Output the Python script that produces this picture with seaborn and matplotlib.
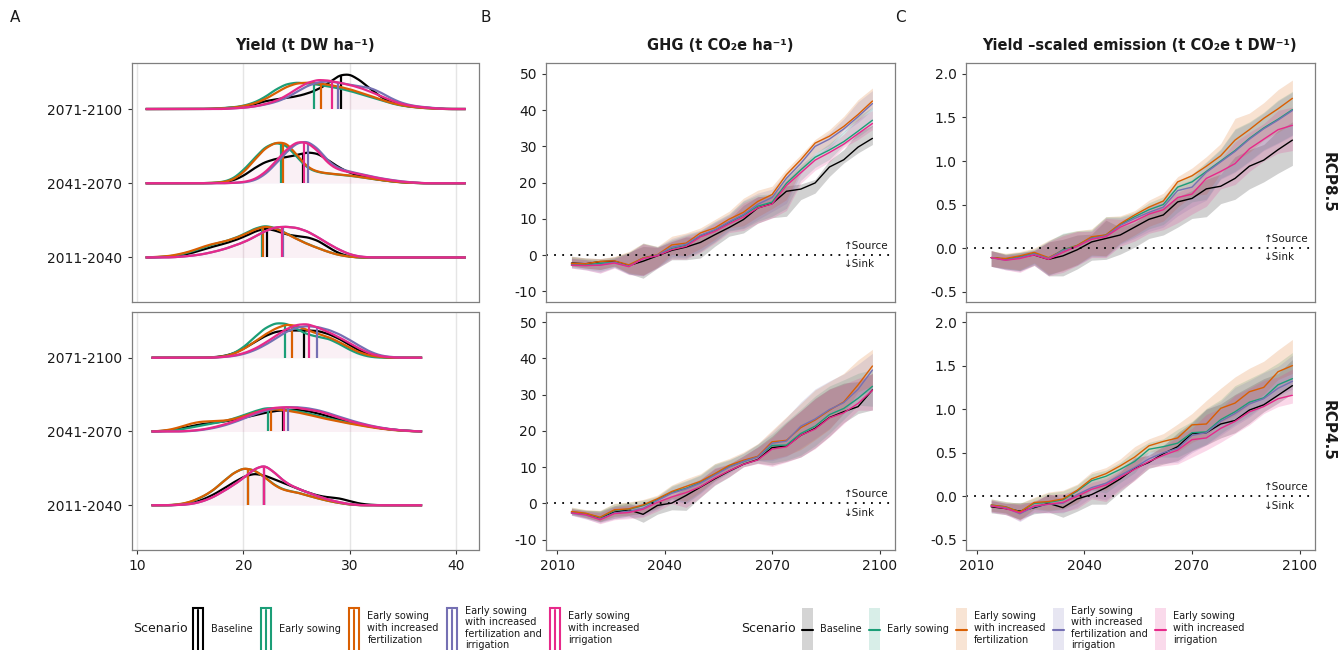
import numpy as np
import pandas as pd
import matplotlib
matplotlib.use("Agg")
import matplotlib.pyplot as plt
from matplotlib.lines import Line2D
from matplotlib.patches import Rectangle
from matplotlib.legend_handler import HandlerBase
import seaborn as sns
from seaborn._statistics import KDE

# ---------------- data ----------------
scenario_keys = ["base", "es", "esf", "esfi", "esi"]
scenario_labels = ["Baseline", "Early sowing",
                   "Early sowing\nwith increased\nfertilization",
                   "Early sowing\nwith increased\nfertilization and\nirrigation",
                   "Early sowing\nwith increased\nirrigation"]
scenario_colors = ["#000000", "#1B9E77", "#D95F02", "#7570B3", "#E7298A"]
periods = ["2011-2040", "2041-2070", "2071-2100"]

# binned yield distribution: relative site counts per 1 t DW/ha bin
yield_bins = [12, 13, 14, 15, 16, 17, 18, 19, 20, 21, 22, 23, 24, 25, 26,
              27, 28, 29, 30, 31, 32, 33, 34, 35, 36, 37, 38]
counts85_2071 = dict(
    base=[0, 0, 0, 0, 0, 0, 2, 4, 7, 13, 23, 28, 32, 37, 45, 57, 75, 100, 103, 83, 57, 33, 18, 10, 6, 4, 2],
    es=[0, 0, 0, 0, 0, 1, 3, 5, 10, 20, 37, 62, 80, 85, 82, 78, 72, 66, 58, 48, 38, 27, 17, 10, 6, 3, 1],
    esf=[0, 0, 0, 0, 0, 1, 2, 4, 9, 17, 30, 50, 70, 82, 84, 82, 77, 71, 63, 52, 41, 29, 18, 11, 6, 3, 1],
    esfi=[0, 0, 0, 0, 0, 0, 0, 2, 4, 8, 14, 22, 35, 55, 75, 87, 90, 85, 78, 73, 68, 52, 32, 18, 10, 6, 3],
    esi=[0, 0, 0, 0, 0, 0, 0, 2, 4, 8, 15, 25, 42, 65, 85, 95, 92, 85, 78, 68, 55, 40, 26, 15, 9, 5, 2])
counts85_2041 = dict(
    base=[0, 0, 0, 0, 0, 0, 2, 8, 23, 48, 68, 78, 83, 90, 100, 96, 73, 50, 33, 23, 16, 10, 6, 3, 1, 0, 0],
    es=[0, 0, 0, 0, 0, 1, 3, 12, 38, 72, 106, 120, 113, 78, 43, 32, 28, 25, 22, 18, 13, 9, 5, 2, 1, 0, 0],
    esf=[0, 0, 0, 0, 0, 1, 2, 9, 30, 65, 100, 117, 118, 82, 45, 32, 28, 25, 22, 18, 13, 9, 5, 2, 1, 0, 0],
    esfi=[0, 0, 0, 0, 0, 0, 0, 1, 2, 7, 24, 55, 90, 118, 124, 102, 62, 42, 34, 27, 20, 14, 9, 5, 2, 0, 0],
    esi=[0, 0, 0, 0, 0, 0, 0, 1, 3, 10, 30, 62, 98, 122, 120, 95, 55, 38, 32, 26, 19, 13, 8, 4, 2, 0, 0])
counts85_2011 = dict(
    base=[1, 2, 6, 12, 22, 32, 40, 50, 62, 78, 90, 82, 70, 65, 62, 52, 30, 12, 2, 0, 0, 0, 0, 0, 0, 0, 0],
    es=[1, 3, 8, 16, 27, 38, 45, 55, 68, 85, 95, 88, 72, 55, 40, 28, 16, 7, 2, 0, 0, 0, 0, 0, 0, 0, 0],
    esf=[2, 4, 10, 18, 30, 40, 46, 55, 67, 83, 94, 88, 72, 55, 40, 28, 16, 7, 2, 0, 0, 0, 0, 0, 0, 0, 0],
    esfi=[0, 0, 2, 5, 9, 16, 24, 35, 47, 63, 82, 95, 96, 93, 82, 63, 42, 24, 9, 2, 0, 0, 0, 0, 0, 0, 0],
    esi=[0, 0, 2, 5, 9, 16, 24, 35, 47, 63, 82, 95, 96, 93, 82, 63, 42, 24, 9, 2, 0, 0, 0, 0, 0, 0, 0])
counts45_2071 = dict(
    base=[0, 0, 0, 0, 0, 1, 4, 12, 28, 48, 68, 82, 86, 86, 86, 85, 75, 60, 40, 20, 8, 2, 0, 0, 0, 0, 0],
    es=[0, 0, 0, 0, 0, 0, 3, 12, 33, 65, 96, 113, 112, 93, 75, 68, 62, 45, 25, 10, 2, 0, 0, 0, 0, 0, 0],
    esf=[0, 0, 0, 0, 0, 1, 3, 11, 28, 52, 78, 98, 113, 108, 93, 80, 70, 53, 33, 16, 6, 2, 0, 0, 0, 0, 0],
    esfi=[0, 0, 0, 0, 0, 0, 2, 5, 12, 24, 42, 64, 88, 103, 108, 104, 95, 80, 60, 38, 18, 6, 2, 0, 0, 0, 0],
    esi=[0, 0, 0, 0, 0, 0, 2, 6, 14, 28, 48, 72, 95, 110, 113, 100, 85, 68, 48, 28, 12, 4, 1, 0, 0, 0, 0])
counts45_2041 = dict(
    base=[1, 3, 9, 17, 24, 28, 32, 38, 45, 53, 62, 68, 71, 72, 68, 60, 50, 40, 31, 23, 16, 10, 6, 3, 1, 0, 0],
    es=[0, 2, 6, 12, 19, 25, 31, 40, 52, 64, 75, 75, 70, 65, 59, 50, 42, 34, 27, 21, 15, 10, 6, 3, 1, 0, 0],
    esf=[1, 5, 14, 26, 33, 34, 35, 40, 50, 62, 72, 74, 70, 64, 57, 48, 40, 33, 26, 20, 14, 9, 5, 2, 1, 0, 0],
    esfi=[0, 0, 0, 1, 4, 9, 16, 26, 38, 51, 62, 70, 73, 73, 70, 64, 55, 44, 34, 25, 17, 11, 6, 3, 1, 0, 0],
    esi=[0, 0, 0, 2, 5, 11, 19, 29, 42, 55, 66, 72, 73, 72, 66, 62, 52, 41, 31, 23, 16, 10, 6, 3, 1, 0, 0])
counts45_2011 = dict(
    base=[0, 0, 1, 5, 14, 28, 46, 66, 84, 94, 88, 75, 62, 50, 38, 28, 23, 21, 12, 4, 1, 0, 0, 0, 0, 0, 0],
    es=[0, 0, 2, 9, 23, 41, 70, 98, 115, 108, 87, 59, 45, 40, 30, 21, 13, 7, 2, 0, 0, 0, 0, 0, 0, 0, 0],
    esf=[0, 0, 3, 10, 24, 42, 70, 98, 116, 109, 87, 58, 44, 40, 30, 21, 13, 7, 2, 0, 0, 0, 0, 0, 0, 0, 0],
    esfi=[0, 0, 1, 3, 10, 22, 40, 60, 82, 110, 124, 97, 67, 52, 39, 27, 17, 9, 3, 0, 0, 0, 0, 0, 0, 0, 0],
    esi=[0, 0, 1, 3, 10, 22, 40, 60, 82, 110, 124, 97, 67, 52, 39, 27, 17, 9, 3, 0, 0, 0, 0, 0, 0, 0, 0])
# median yields (t DW/ha)
median85 = {"2071-2100": dict(base=29.2, es=26.6, esf=27.3, esfi=28.9, esi=28.3),
            "2041-2070": dict(base=25.6, es=23.55, esf=23.7, esfi=26.1, esi=25.7),
            "2011-2040": dict(base=22.2, es=21.7, esf=21.8, esfi=23.7, esi=23.6)}
median45 = {"2071-2100": dict(base=25.7, es=23.9, esf=24.6, esfi=26.9, esi=26.2),
            "2041-2070": dict(base=23.7, es=22.3, esf=22.6, esfi=24.2, esi=23.8),
            "2011-2040": dict(base=21.9, es=20.4, esf=20.4, esfi=21.95, esi=21.95)}
yield_range85 = (10.8, 40.9)
yield_range45 = (11.35, 36.8)

years = [2014, 2018, 2022, 2026, 2030, 2034, 2038, 2042, 2046, 2050, 2054,
         2058, 2062, 2066, 2070, 2074, 2078, 2082, 2086, 2090, 2094, 2098]

ghg85 = dict(
    base=[-2.2, -2.4, -1.8, -1.7, -2.9, -1.7, -0.2, 1.3, 2.2, 3.5, 5.6, 7.6, 9.8, 13.0, 14.2, 17.6, 18.2, 19.9, 24.3, 26.3, 29.8, 32.2],
    es=[-2.6, -2.7, -2.3, -2.0, -3.0, -0.8, 0.0, 1.8, 2.7, 5.3, 6.8, 9.0, 11.0, 13.5, 14.6, 19.8, 23.5, 27.0, 29.0, 31.3, 34.2, 37.2],
    esf=[-2.3, -2.4, -1.75, -1.6, -2.7, -0.8, 0.1, 2.8, 3.3, 6.1, 7.5, 9.9, 11.8, 14.8, 16.7, 22.2, 26.3, 30.9, 32.8, 35.5, 38.8, 42.5],
    esfi=[-2.8, -2.9, -2.7, -2.0, -3.1, -1.0, 0.0, 2.2, 3.0, 5.5, 7.0, 9.2, 11.2, 14.0, 15.9, 21.2, 25.3, 30.0, 32.0, 34.8, 38.2, 41.8],
    esi=[-2.8, -2.9, -2.8, -2.2, -3.2, -1.0, -0.2, 1.5, 2.4, 5.0, 6.5, 8.6, 10.5, 13.0, 14.1, 19.2, 22.7, 26.2, 28.3, 30.6, 33.5, 36.3])
ghg85_hi = [1.9, 1.6, 0.8, 1.2, 3.7, 4.1, 2.3, 2.4, 2.8, 1.4, 2.3, 2.2, 3.9, 3.1, 2.3, 1.5, 1.4, 1.0, 1.8, 2.8, 4.1, 3.6]
ghg85_lo = [0.8, 1.2, 2.2, 1.4, 2.2, 4.7, 3.4, 2.6, 3.5, 4.3, 3.2, 2.4, 3.7, 4.2, 3.9, 6.9, 2.9, 2.8, 2.6, 0.9, 1.6, 1.7]

ghg45 = dict(
    base=[-2.6, -2.9, -4.0, -2.4, -1.75, -3.0, -0.55, 0.1, 2.2, 4.5, 6.8, 8.9, 10.8, 12.1, 15.4, 15.8, 18.8, 20.7, 23.7, 25.3, 26.7, 31.3],
    es=[-2.3, -2.8, -3.9, -1.9, -1.6, -0.6, 1.0, 3.1, 4.2, 5.8, 8.1, 10.2, 11.5, 12.9, 16.0, 16.1, 19.3, 21.3, 24.5, 26.2, 29.0, 32.3],
    esf=[-2.2, -2.7, -3.8, -1.75, -1.5, -0.4, 1.3, 3.3, 4.7, 6.1, 8.2, 10.5, 11.9, 13.0, 17.0, 17.4, 20.9, 23.0, 25.7, 28.0, 32.7, 37.9],
    esfi=[-2.7, -3.2, -4.3, -2.6, -2.2, -1.3, 0.8, 2.8, 4.0, 5.6, 7.8, 10.0, 11.6, 12.8, 16.6, 17.2, 21.3, 23.3, 25.9, 27.8, 31.5, 36.8],
    esi=[-2.6, -3.1, -4.5, -2.8, -2.5, -1.6, 0.3, 1.8, 3.0, 4.6, 7.0, 9.0, 10.8, 12.0, 15.0, 15.6, 18.8, 20.5, 23.6, 25.0, 27.6, 31.2])
ghg45_hi = [1.2, 1.0, 1.9, 1.8, 1.9, 1.5, 1.0, 1.8, 2.1, 2.1, 2.8, 1.9, 2.3, 3.5, 3.2, 6.5, 6.7, 8.3, 7.9, 7.9, 6.9, 4.6]
ghg45_lo = [0.6, 1.1, 1.1, 1.7, 1.7, 2.2, 2.4, 1.85, 4.1, 2.85, 1.8, 1.6, 0.7, 1.0, 4.8, 4.2, 6.0, 5.4, 5.2, 3.0, 1.9, 5.5]

yse85 = dict(
    base=[-0.11, -0.13, -0.10, -0.08, -0.13, -0.09, -0.02, 0.07, 0.11, 0.15, 0.24, 0.33, 0.38, 0.53, 0.57, 0.68, 0.71, 0.80, 0.94, 1.01, 1.13, 1.24],
    es=[-0.11, -0.13, -0.10, -0.06, -0.12, -0.02, 0.03, 0.12, 0.15, 0.27, 0.36, 0.44, 0.50, 0.70, 0.76, 0.88, 1.00, 1.12, 1.26, 1.38, 1.48, 1.59],
    esf=[-0.11, -0.12, -0.09, -0.05, -0.11, -0.03, 0.03, 0.13, 0.15, 0.28, 0.38, 0.47, 0.54, 0.76, 0.83, 0.94, 1.06, 1.24, 1.36, 1.49, 1.60, 1.72],
    esfi=[-0.11, -0.14, -0.11, -0.07, -0.12, -0.03, 0.02, 0.11, 0.14, 0.26, 0.34, 0.41, 0.47, 0.66, 0.70, 0.87, 0.99, 1.11, 1.25, 1.37, 1.47, 1.58],
    esi=[-0.11, -0.14, -0.12, -0.08, -0.13, -0.05, 0.02, 0.10, 0.13, 0.24, 0.31, 0.39, 0.44, 0.58, 0.62, 0.80, 0.88, 0.97, 1.14, 1.25, 1.36, 1.41])
yse85_hi = [0.08, 0.06, 0.05, 0.05, 0.20, 0.19, 0.17, 0.09, 0.21, 0.09, 0.05, 0.08, 0.09, 0.06, 0.09, 0.11, 0.14, 0.25, 0.19, 0.18, 0.22, 0.21]
yse85_lo = [0.10, 0.11, 0.16, 0.12, 0.19, 0.23, 0.22, 0.21, 0.24, 0.22, 0.23, 0.22, 0.23, 0.29, 0.23, 0.32, 0.20, 0.24, 0.26, 0.25, 0.27, 0.29]

yse45 = dict(
    base=[-0.12, -0.14, -0.17, -0.13, -0.08, -0.13, -0.03, 0.02, 0.10, 0.20, 0.32, 0.39, 0.49, 0.57, 0.72, 0.73, 0.83, 0.87, 0.99, 1.05, 1.16, 1.27],
    es=[-0.10, -0.12, -0.18, -0.08, -0.07, -0.04, 0.06, 0.18, 0.23, 0.31, 0.40, 0.54, 0.57, 0.61, 0.73, 0.74, 0.88, 0.97, 1.08, 1.13, 1.28, 1.35],
    esf=[-0.10, -0.12, -0.18, -0.07, -0.06, -0.03, 0.07, 0.20, 0.26, 0.35, 0.45, 0.58, 0.63, 0.67, 0.82, 0.83, 1.01, 1.07, 1.20, 1.25, 1.43, 1.50],
    esfi=[-0.11, -0.13, -0.20, -0.12, -0.09, -0.08, 0.02, 0.10, 0.15, 0.24, 0.33, 0.43, 0.50, 0.55, 0.70, 0.73, 0.86, 0.95, 1.06, 1.12, 1.24, 1.32],
    esi=[-0.11, -0.14, -0.19, -0.11, -0.09, -0.07, 0.00, 0.08, 0.13, 0.22, 0.31, 0.40, 0.47, 0.53, 0.65, 0.67, 0.78, 0.86, 0.97, 1.03, 1.12, 1.16])
yse45_hi = [0.07, 0.06, 0.10, 0.06, 0.11, 0.10, 0.07, 0.08, 0.07, 0.08, 0.12, 0.08, 0.09, 0.16, 0.13, 0.27, 0.23, 0.30, 0.27, 0.30, 0.25, 0.30]
yse45_lo = [0.07, 0.07, 0.09, 0.07, 0.10, 0.11, 0.14, 0.11, 0.19, 0.15, 0.13, 0.07, 0.12, 0.16, 0.20, 0.14, 0.16, 0.14, 0.15, 0.08, 0.09, 0.09]

# ---------------- style ----------------
sns.set_theme(style="white")
plt.rcParams["font.family"] = ["DejaVu Sans"]
plt.rcParams["axes.edgecolor"] = "#7f7f7f"
plt.rcParams["axes.linewidth"] = 0.8
TICK_COLOR = "#333333"

fig = plt.figure(figsize=(13.4, 6.5), dpi=100)
W, H = 1340.0, 650.0


def rect(l, t, r, b):
    return [l / W, 1 - b / H, (r - l) / W, (b - t) / H]


rows = [(63, 302), (312, 549.5)]
axA = [fig.add_axes(rect(131.5, t, 478.5, b)) for t, b in rows]
axB = [fig.add_axes(rect(546, t, 895, b)) for t, b in rows]
axC = [fig.add_axes(rect(965.7, t, 1315, b)) for t, b in rows]

for ax in axA + axB + axC:
    ax.set_facecolor("white")
    for s in ax.spines.values():
        s.set_color("#7f7f7f")
        s.set_linewidth(0.9)
    ax.tick_params(axis="both", colors=TICK_COLOR, labelcolor="#1a1a1a",
                   labelsize=10, length=3, width=0.8, direction="out",
                   bottom=True, left=True)

# ---------------- panel A: ridgelines ----------------
ridge_sets = [
    ([counts85_2011, counts85_2041, counts85_2071], median85, yield_range85),
    ([counts45_2011, counts45_2041, counts45_2071], median45, yield_range45),
]
BANDWIDTH = 0.6  # t DW/ha
bins = np.asarray(yield_bins, float)
curves_all = []
for sets, meds, clip in ridge_sets:
    cur = []
    for ip, d in enumerate(sets):
        for k in scenario_keys:
            w = np.asarray(d[k], float)
            sd = np.sqrt(np.cov(bins, aweights=w))
            kde = KDE(bw_method=BANDWIDTH / sd, cut=100, clip=clip, gridsize=500)
            dens, grid = kde(bins, weights=w)
            cur.append((ip + 1, k, meds[periods[ip]][k], grid, dens))
    curves_all.append(cur)
peak = max(c[4].max() for cur in curves_all for c in cur)
SCALE = 0.555 / peak

for ax, cur in zip(axA, curves_all):
    ax.grid(axis="x", color="#e5e5e5", lw=1.0)
    ax.grid(axis="y", visible=False)
    ax.set_axisbelow(True)
    for ypos in (3, 2, 1):
        for (yp, k, med, grid, dens) in cur:
            if yp != ypos:
                continue
            col = scenario_colors[scenario_keys.index(k)]
            h = dens * SCALE
            ax.fill_between(grid, ypos, ypos + h, color="#E7298A", alpha=0.012, lw=0)
            ax.plot(grid, ypos + h, color=col, lw=1.6, solid_capstyle="butt")
            hm = np.interp(med, grid, dens) * SCALE
            ax.plot([med, med], [ypos, ypos + hm], color=col, lw=1.6, solid_capstyle="butt")
    ax.set_xlim(9.47, 42.1)
    ax.set_ylim(0.4, 3.62)
    ax.set_yticks([1, 2, 3])
    ax.set_yticklabels(periods)
    ax.set_xticks([10, 20, 30, 40])
axA[0].tick_params(axis="x", length=0, labelbottom=False)

# ---------------- panels B & C: time series ----------------
def ts_panel(ax, values, hi, lo, ylim, yticks, yticklabels):
    rows_ = []
    for k, lab in zip(scenario_keys, scenario_labels):
        for yr, v in zip(years, values[k]):
            rows_.append((yr, v, lab))
    df = pd.DataFrame(rows_, columns=["year", "value", "scenario"])
    for k, col in zip(scenario_keys, scenario_colors):
        v = np.asarray(values[k])
        ax.fill_between(years, v - np.asarray(lo), v + np.asarray(hi),
                        color=col, alpha=0.18, lw=0)
    sns.lineplot(data=df, x="year", y="value", hue="scenario",
                 hue_order=scenario_labels, palette=scenario_colors,
                 ax=ax, legend=False, linewidth=1.0, estimator=None)
    ax.axhline(0, color="black", lw=1.3, linestyle=(0, (1, 3.5)))
    ax.annotate("\u2191Source", xy=(2090, 0), xytext=(0, 3), textcoords="offset points",
                fontsize=7.5, ha="left", va="bottom", color="#1a1a1a")
    ax.annotate("\u2193Sink", xy=(2090, 0), xytext=(0, -3), textcoords="offset points",
                fontsize=7.5, ha="left", va="top", color="#1a1a1a")
    ax.set_xlim(2006.9, 2104.3)
    ax.set_ylim(*ylim)
    ax.set_yticks(yticks)
    ax.set_yticklabels(yticklabels)
    ax.set_xticks([2010, 2040, 2070, 2100])
    ax.set_xlabel("")
    ax.set_ylabel("")


gy = [-10, 0, 10, 20, 30, 40, 50]
ts_panel(axB[0], ghg85, ghg85_hi, ghg85_lo, (-12.95, 53.0), gy, [str(v) for v in gy])
ts_panel(axB[1], ghg45, ghg45_hi, ghg45_lo, (-12.7, 52.8), gy, [str(v) for v in gy])
cy = [-0.5, 0.0, 0.5, 1.0, 1.5, 2.0]
ts_panel(axC[0], yse85, yse85_hi, yse85_lo, (-0.62, 2.126), cy, [f"{v:.1f}" for v in cy])
ts_panel(axC[1], yse45, yse45_hi, yse45_lo, (-0.61, 2.115), cy, [f"{v:.1f}" for v in cy])
for ax in (axB[0], axC[0]):
    ax.tick_params(axis="x", length=0, labelbottom=False)

# ---------------- titles, labels ----------------
fig.text(305 / W, 1 - 45 / H, "Yield (t DW ha\u207b\u00b9)", ha="center", va="center",
         fontsize=10.5, fontweight="bold", color="#1a1a1a")
fig.text(720 / W, 1 - 45 / H, "GHG (t CO\u2082e ha\u207b\u00b9)", ha="center", va="center",
         fontsize=10.5, fontweight="bold", color="#1a1a1a")
fig.text(1140 / W, 1 - 45 / H, "Yield \u2013scaled emission (t CO\u2082e t DW\u207b\u00b9)",
         ha="center", va="center", fontsize=10.5, fontweight="bold", color="#1a1a1a")
for lab, x in (("A", 10), ("B", 481), ("C", 895)):
    fig.text(x / W, 1 - 18 / H, lab, ha="left", va="center", fontsize=11, color="#1a1a1a")
fig.text(1328 / W, 1 - 182.5 / H, "RCP8.5", rotation=270, ha="center", va="center",
         fontsize=11, fontweight="bold", color="#1a1a1a")
fig.text(1328 / W, 1 - 430.75 / H, "RCP4.5", rotation=270, ha="center", va="center",
         fontsize=11, fontweight="bold", color="#1a1a1a")

# ---------------- legends ----------------
KEY_HALF = 15.8  # points


class RidgeKey(HandlerBase):
    def create_artists(self, legend, orig_handle, xdescent, ydescent, width, height, fontsize, trans):
        c = orig_handle.get_color()
        yc = -ydescent + height / 2
        r = Rectangle((-xdescent + 1, yc - KEY_HALF), width - 2, 2 * KEY_HALF, facecolor="white",
                      edgecolor=c, lw=1.5, transform=trans)
        ln = Line2D([-xdescent + width / 2] * 2, [yc - KEY_HALF + 1.5, yc + KEY_HALF - 1.5],
                    color=c, lw=1.5, transform=trans)
        return [r, ln]


class BandKey(HandlerBase):
    def create_artists(self, legend, orig_handle, xdescent, ydescent, width, height, fontsize, trans):
        c = orig_handle.get_color()
        yc = -ydescent + height / 2
        r = Rectangle((-xdescent, yc - KEY_HALF), width, 2 * KEY_HALF, facecolor=c, alpha=0.17,
                      edgecolor="none", transform=trans)
        ln = Line2D([-xdescent, -xdescent + width], [yc, yc],
                    color=c, lw=1.5, transform=trans)
        return [r, ln]


legend_y = 1 - 628 / H
h1 = [Line2D([], [], color=c) for c in scenario_colors]
leg1 = fig.legend(h1, scenario_labels, loc="center left", bbox_to_anchor=(192 / W, legend_y),
                  ncol=5, frameon=False, fontsize=7, handlelength=1.3, handleheight=5.0,
                  handletextpad=0.7, columnspacing=0.7, borderpad=0, borderaxespad=0,
                  handler_map={h: RidgeKey() for h in h1}, labelspacing=0.2)
h2 = [Line2D([], [], color=c) for c in scenario_colors]
leg2 = fig.legend(h2, scenario_labels, loc="center left", bbox_to_anchor=(802 / W, legend_y),
                  ncol=5, frameon=False, fontsize=7, handlelength=1.15, handleheight=5.0,
                  handletextpad=0.7, columnspacing=0.75, borderpad=0, borderaxespad=0,
                  handler_map={h: BandKey() for h in h2}, labelspacing=0.2)
for lg in (leg1, leg2):
    for t in lg.get_texts():
        t.set_color("#1a1a1a")
fig.text(133 / W, legend_y, "Scenario", ha="left", va="center", fontsize=9, color="#1a1a1a")
fig.text(741 / W, legend_y, "Scenario", ha="left", va="center", fontsize=9, color="#1a1a1a")

fig.savefig("out.png", dpi=100, facecolor="white")
